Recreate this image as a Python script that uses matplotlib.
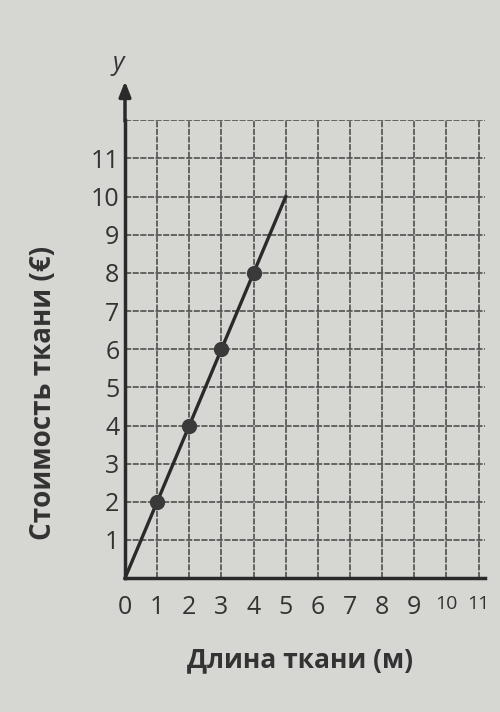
import matplotlib
matplotlib.use("Agg")
import matplotlib.pyplot as plt
import numpy as np

plt.rcParams['font.family'] = ['Open Sans', 'DejaVu Sans']

# data
line_x = [0, 5]
line_y = [0, 10]
point_x = [1, 2, 3, 4]
point_y = [2, 4, 6, 8]
x_ticks = [0, 1, 2, 3, 4, 5, 6, 7, 8, 9, 10, 11]
y_ticks = [1, 2, 3, 4, 5, 6, 7, 8, 9, 10, 11]
x_label = "Длина ткани (м)"
y_label = "Стоимость ткани (€)"

bg = "#d6d6d3"
fig = plt.figure(figsize=(5, 7.12), dpi=100, facecolor=bg)
ax = fig.add_axes([0.25, 0.188, 0.72, 0.643])
ax.set_facecolor(bg)
ax.set_xlim(0, 11.2)
ax.set_ylim(0, 12)

for v in range(1, 12):
    ax.axvline(v, color="#444444", lw=1.1, ls=(0, (4, 1)), zorder=1)
for v in range(1, 13):
    ax.axhline(v, color="#444444", lw=1.1, ls=(0, (4, 1)), zorder=1)

ax.plot(line_x, line_y, color="#2a2a2a", lw=2.4, zorder=3, clip_on=False)
ax.plot(point_x, point_y, "o", color="#3a3a3a", markersize=10, zorder=4)

for s in ["top", "right"]:
    ax.spines[s].set_visible(False)
ax.spines["left"].set_linewidth(2.5)
ax.spines["bottom"].set_linewidth(2.5)
ax.spines["left"].set_color("#2a2a2a")
ax.spines["bottom"].set_color("#2a2a2a")

# arrow for y axis
ax.annotate("", xy=(0, 13.1), xytext=(0, 11.9), xycoords="data",
            arrowprops=dict(arrowstyle="-|>,head_width=0.35,head_length=0.9",
                            color="#2a2a2a", lw=2.5), annotation_clip=False)
ax.text(-0.2, 13.5, "y", fontsize=18, style="italic", color="#333333",
        ha="center", va="center")

ax.set_xticks(x_ticks)
ax.set_xticklabels([str(t) for t in x_ticks])
ax.set_yticks(y_ticks)
ax.set_yticklabels([str(t) for t in y_ticks])
ax.tick_params(length=0, labelsize=18, colors="#333333")
ax.tick_params(axis="x", pad=12)
ax.tick_params(axis="y", pad=4)
for lbl in ax.get_xticklabels()[-2:]:
    lbl.set_fontsize(14)

ax.set_xlabel(x_label, fontsize=19, fontweight="bold", color="#333333")
ax.xaxis.set_label_coords(0.485, -0.179)
ax.set_ylabel(y_label, fontsize=20, fontweight="bold", color="#333333")
ax.yaxis.set_label_coords(-0.225, 0.405)
ax.yaxis.label.set_va("center")
ax.xaxis.label.set_va("center")

fig.savefig("out.png", dpi=100, facecolor=bg)
